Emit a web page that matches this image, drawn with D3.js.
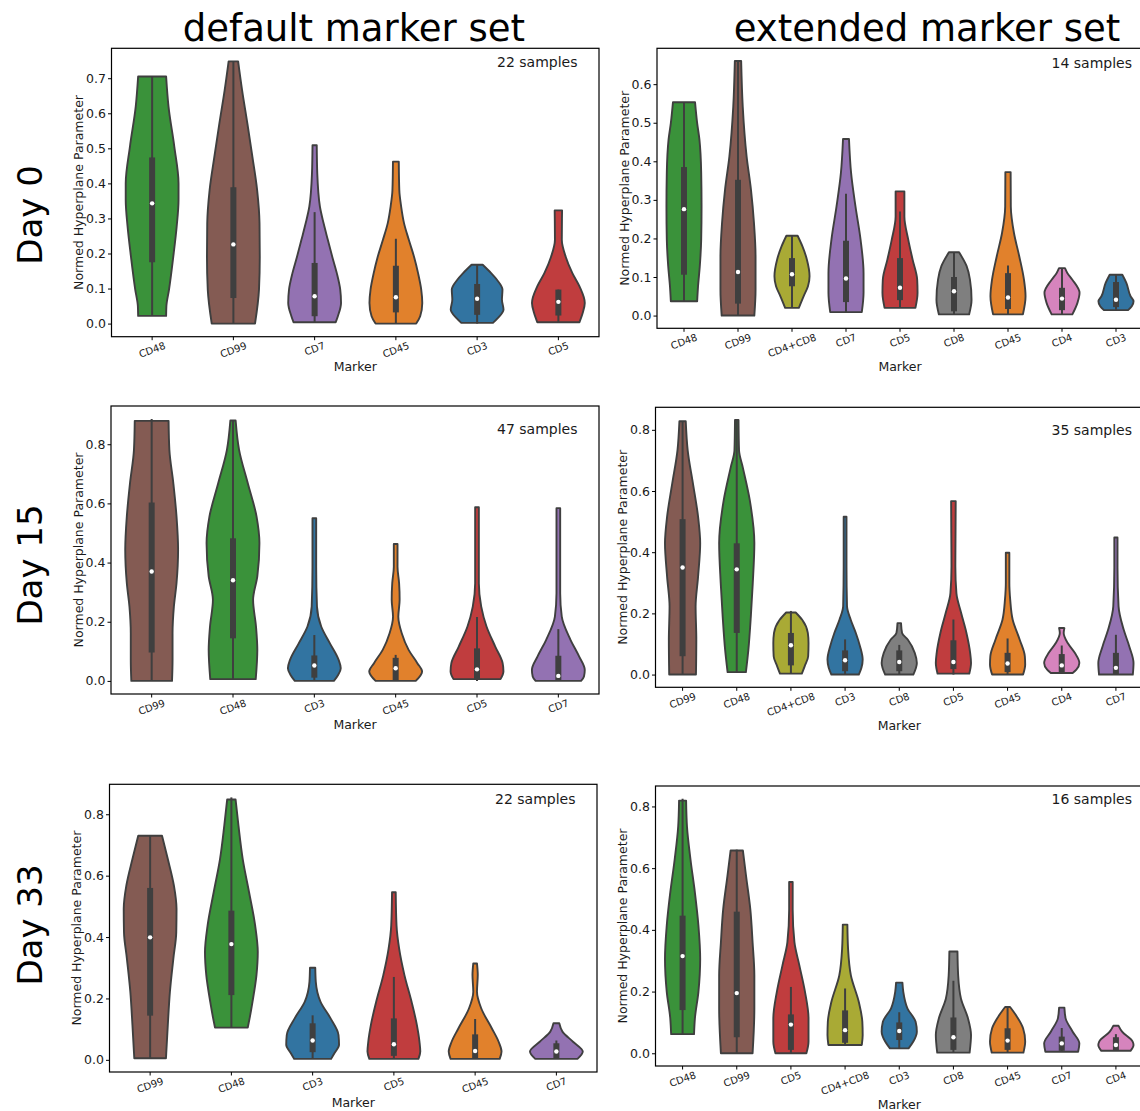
<!DOCTYPE html>
<html>
<head>
<meta charset="utf-8">
<script src="https://cdn.jsdelivr.net/npm/d3@7/dist/d3.min.js"></script>
<style>
body { margin: 0; background: #fff; }
svg { display: block; font-family: "DejaVu Sans", sans-serif; }
</style>
</head>
<body>
<script>
// Violin plots of normed hyperplane parameters per marker
// rows: Day 0 / 15 / 33, columns: default / extended marker set

// box stats per violin: [whisker low, q1, median, q3, whisker high]
// shapes: [value, relative half-width], bottom to top

var columnTitles = ["default marker set", "extended marker set"];
var rowTitles = ["Day 0", "Day 15", "Day 33"];
var sampleCounts = [22, 14, 47, 35, 22, 16];

var markerColors = {
    "CD48": "#3a923a", "CD99": "#845b53", "CD7": "#9372b2", "CD45": "#e1812c",
    "CD3": "#3274a1", "CD5": "#c03d3e", "CD4+CD8": "#a9aa35", "CD8": "#7f7f7f", "CD4": "#d684bd"
};

// ---- Day 0, default
var day0DefaultMarkers = ["CD48", "CD99", "CD7", "CD45", "CD3", "CD5"];
var day0DefaultTicks = [0, 0.1, 0.2, 0.3, 0.4, 0.5, 0.6, 0.7];
var day0DefaultBoxes = [
    [0.022, 0.175, 0.343, 0.474, 0.705],
    [0.0, 0.073, 0.226, 0.389, 0.748],
    [0.004, 0.021, 0.078, 0.173, 0.318],
    [0.0, 0.032, 0.075, 0.165, 0.242],
    [0.0, 0.025, 0.071, 0.113, 0.168],
    [0.004, 0.023, 0.062, 0.097, 0.097]
];
var day0DefaultShapes = [
    [[0.022, 0.53], [0.05, 0.54], [0.097, 0.64], [0.19, 0.8], [0.277, 0.93], [0.353, 1], [0.40, 1], [0.505, 0.84], [0.62, 0.62], [0.705, 0.53]],
    [[0, 0.82], [0.097, 0.97], [0.19, 1], [0.286, 0.99], [0.381, 0.9], [0.476, 0.72], [0.571, 0.53], [0.666, 0.33], [0.748, 0.18]],
    [[0.004, 0.8], [0.021, 0.88], [0.059, 1], [0.097, 0.97], [0.144, 0.84], [0.19, 0.67], [0.239, 0.5], [0.286, 0.34], [0.334, 0.2], [0.429, 0.1], [0.509, 0.08]],
    [[0, 0.77], [0.021, 0.92], [0.059, 1], [0.097, 0.96], [0.144, 0.84], [0.19, 0.69], [0.239, 0.49], [0.286, 0.31], [0.334, 0.2], [0.381, 0.13], [0.462, 0.11]],
    [[0.002, 0.6], [0.016, 0.79], [0.04, 1], [0.068, 0.94], [0.097, 0.96], [0.125, 0.75], [0.144, 0.53], [0.168, 0.21]],
    [[0.004, 0.8], [0.03, 0.92], [0.059, 1], [0.106, 0.8], [0.144, 0.53], [0.19, 0.28], [0.239, 0.13], [0.323, 0.14]]
];

// ---- Day 0, extended
var day0ExtMarkers = ["CD48", "CD99", "CD4+CD8", "CD7", "CD5", "CD8", "CD45", "CD4", "CD3"];
var day0ExtTicks = [0, 0.1, 0.2, 0.3, 0.4, 0.5, 0.6];
var day0ExtBoxes = [
    [0.037, 0.106, 0.276, 0.385, 0.553],
    [0.0, 0.031, 0.113, 0.352, 0.66],
    [0.02, 0.076, 0.107, 0.149, 0.208],
    [0.009, 0.035, 0.096, 0.194, 0.316],
    [0.02, 0.04, 0.072, 0.149, 0.27],
    [0.003, 0.011, 0.063, 0.1, 0.164],
    [0.003, 0.017, 0.047, 0.11, 0.13],
    [0.003, 0.014, 0.044, 0.072, 0.123],
    [0.014, 0.022, 0.041, 0.087, 0.106]
];
var day0ExtShapes = [
    [[0.037, 0.75], [0.076, 0.8], [0.128, 0.9], [0.197, 0.98], [0.283, 1], [0.37, 0.98], [0.456, 0.88], [0.499, 0.75], [0.553, 0.63]],
    [[0, 0.93], [0.067, 1], [0.154, 1], [0.24, 0.91], [0.326, 0.74], [0.413, 0.49], [0.542, 0.27], [0.66, 0.18]],
    [[0.02, 0.39], [0.05, 0.66], [0.076, 0.91], [0.102, 1], [0.145, 0.85], [0.18, 0.59], [0.207, 0.32]],
    [[0.009, 0.9], [0.059, 1], [0.11, 1], [0.197, 0.83], [0.283, 0.54], [0.37, 0.29], [0.458, 0.17]],
    [[0.02, 0.88], [0.059, 1], [0.093, 0.98], [0.145, 0.72], [0.197, 0.47], [0.257, 0.25], [0.322, 0.25]],
    [[0.003, 0.86], [0.041, 1], [0.093, 0.91], [0.128, 0.72], [0.164, 0.29]],
    [[0.003, 0.85], [0.05, 1], [0.093, 0.91], [0.154, 0.64], [0.214, 0.34], [0.283, 0.16], [0.372, 0.15]],
    [[0.003, 0.59], [0.033, 0.88], [0.059, 1], [0.093, 0.59], [0.11, 0.31], [0.123, 0.17]],
    [[0.014, 0.69], [0.024, 0.9], [0.037, 1], [0.05, 0.83], [0.085, 0.59], [0.106, 0.36]]
];

// ---- Day 15, default
var day15DefaultMarkers = ["CD99", "CD48", "CD3", "CD45", "CD5", "CD7"];
var day15DefaultTicks = [0, 0.2, 0.4, 0.6, 0.8];
var day15DefaultBoxes = [
    [0.0, 0.096, 0.37, 0.603, 0.885],
    [0.006, 0.144, 0.34, 0.482, 0.88],
    [0.0, 0.011, 0.052, 0.086, 0.155],
    [0.0, 0.0, 0.043, 0.078, 0.088],
    [0.0, 0.006, 0.039, 0.11, 0.216],
    [0.0, 0.0, 0.017, 0.085, 0.175]
];
var day15DefaultShapes = [
    [[0, 0.77], [0.071, 0.79], [0.161, 0.79], [0.251, 0.84], [0.33, 0.94], [0.443, 1], [0.556, 0.94], [0.668, 0.82], [0.781, 0.67], [0.879, 0.64]],
    [[0.006, 0.86], [0.105, 0.92], [0.184, 0.87], [0.274, 0.76], [0.353, 0.92], [0.465, 1], [0.556, 0.89], [0.668, 0.56], [0.781, 0.23], [0.88, 0.1]],
    [[0, 0.74], [0.02, 0.9], [0.043, 1], [0.071, 0.92], [0.127, 0.59], [0.184, 0.26], [0.251, 0.1], [0.386, 0.07], [0.55, 0.07]],
    [[0, 0.76], [0.032, 1], [0.06, 0.82], [0.105, 0.49], [0.161, 0.23], [0.217, 0.1], [0.274, 0.15], [0.33, 0.13], [0.386, 0.07], [0.463, 0.07]],
    [[0.006, 0.89], [0.032, 1], [0.06, 0.97], [0.116, 0.69], [0.184, 0.36], [0.251, 0.16], [0.33, 0.07], [0.5, 0.07], [0.587, 0.07]],
    [[0, 0.86], [0.015, 0.97], [0.037, 1], [0.082, 0.79], [0.139, 0.46], [0.217, 0.13], [0.296, 0.07], [0.443, 0.07], [0.584, 0.07]]
];

// ---- Day 15, extended
var day15ExtMarkers = ["CD99", "CD48", "CD4+CD8", "CD3", "CD8", "CD5", "CD45", "CD4", "CD7"];
var day15ExtTicks = [0, 0.2, 0.4, 0.6, 0.8];
var day15ExtBoxes = [
    [0.0, 0.06, 0.35, 0.508, 0.828],
    [0.008, 0.136, 0.344, 0.429, 0.832],
    [0.003, 0.03, 0.096, 0.136, 0.208],
    [0.0, 0.011, 0.047, 0.079, 0.115],
    [0.0, 0.011, 0.041, 0.079, 0.097],
    [0.0, 0.018, 0.041, 0.112, 0.18],
    [0.0, 0.008, 0.036, 0.071, 0.118],
    [0.005, 0.008, 0.03, 0.067, 0.095],
    [0.0, 0.0, 0.022, 0.071, 0.13]
];
var day15ExtShapes = [
    [[0, 0.76], [0.114, 0.78], [0.223, 0.74], [0.32, 0.88], [0.429, 1], [0.516, 0.88], [0.624, 0.59], [0.733, 0.29], [0.828, 0.18]],
    [[0.008, 0.52], [0.081, 0.66], [0.19, 0.8], [0.299, 0.91], [0.429, 1], [0.57, 0.74], [0.678, 0.34], [0.733, 0.13], [0.832, 0.1]],
    [[0.003, 0.62], [0.027, 0.78], [0.06, 0.98], [0.103, 1], [0.136, 0.96], [0.179, 0.64], [0.203, 0.27]],
    [[0, 0.78], [0.022, 0.93], [0.049, 1], [0.092, 0.85], [0.136, 0.61], [0.179, 0.32], [0.223, 0.11], [0.353, 0.08], [0.516, 0.08]],
    [[0, 0.8], [0.038, 1], [0.071, 0.88], [0.114, 0.49], [0.136, 0.16], [0.168, 0.1]],
    [[0.003, 0.9], [0.038, 1], [0.071, 0.95], [0.136, 0.74], [0.201, 0.44], [0.266, 0.17], [0.353, 0.11], [0.461, 0.12], [0.567, 0.13]],
    [[0, 0.88], [0.033, 1], [0.06, 0.98], [0.114, 0.69], [0.179, 0.29], [0.244, 0.15], [0.299, 0.1], [0.398, 0.1]],
    [[0.005, 0.62], [0.016, 0.83], [0.038, 1], [0.071, 0.74], [0.103, 0.34], [0.136, 0.11], [0.152, 0.15]],
    [[0, 0.96], [0.038, 1], [0.092, 0.76], [0.147, 0.44], [0.223, 0.15], [0.35, 0.09], [0.448, 0.09]]
];

// ---- Day 33, default
var day33DefaultMarkers = ["CD99", "CD48", "CD3", "CD5", "CD45", "CD7"];
var day33DefaultTicks = [0, 0.2, 0.4, 0.6, 0.8];
var day33DefaultBoxes = [
    [0.005, 0.144, 0.399, 0.56, 0.73],
    [0.105, 0.211, 0.377, 0.486, 0.855],
    [0.003, 0.025, 0.063, 0.119, 0.145],
    [0.003, 0.013, 0.051, 0.135, 0.27],
    [0.003, 0.003, 0.029, 0.083, 0.133],
    [0.003, 0.003, 0.027, 0.054, 0.063]
];
var day33DefaultShapes = [
    [[0.005, 0.6], [0.114, 0.67], [0.222, 0.75], [0.33, 0.88], [0.416, 0.99], [0.492, 1], [0.568, 0.9], [0.654, 0.67], [0.73, 0.45]],
    [[0.105, 0.62], [0.135, 0.69], [0.189, 0.8], [0.276, 0.95], [0.351, 1], [0.438, 0.9], [0.546, 0.67], [0.654, 0.43], [0.762, 0.27], [0.848, 0.16]],
    [[0.003, 0.7], [0.022, 0.83], [0.049, 1], [0.081, 0.98], [0.135, 0.68], [0.189, 0.3], [0.254, 0.12], [0.3, 0.1]],
    [[0.003, 0.93], [0.027, 1], [0.059, 0.97], [0.114, 0.87], [0.189, 0.67], [0.276, 0.4], [0.362, 0.2], [0.438, 0.1], [0.546, 0.07]],
    [[0.003, 0.93], [0.027, 1], [0.059, 0.89], [0.103, 0.63], [0.168, 0.23], [0.222, 0.07], [0.276, 0.1], [0.314, 0.07]],
    [[0.003, 0.8], [0.027, 1], [0.059, 0.63], [0.092, 0.23], [0.119, 0.11]]
];

// ---- Day 33, extended
var day33ExtMarkers = ["CD48", "CD99", "CD5", "CD4+CD8", "CD3", "CD8", "CD45", "CD7", "CD4"];
var day33ExtTicks = [0, 0.2, 0.4, 0.6, 0.8];
var day33ExtBoxes = [
    [0.062, 0.14, 0.315, 0.446, 0.825],
    [0.0, 0.052, 0.195, 0.459, 0.66],
    [0.0, 0.011, 0.093, 0.126, 0.215],
    [0.027, 0.034, 0.075, 0.139, 0.21],
    [0.016, 0.043, 0.072, 0.1, 0.133],
    [0.002, 0.011, 0.052, 0.116, 0.235],
    [0.002, 0.011, 0.041, 0.081, 0.15],
    [0.005, 0.008, 0.032, 0.054, 0.082],
    [0.008, 0.008, 0.027, 0.052, 0.062]
];
var day33ExtShapes = [
    [[0.062, 0.65], [0.113, 0.7], [0.199, 0.9], [0.306, 1], [0.414, 0.9], [0.521, 0.7], [0.628, 0.45], [0.735, 0.25], [0.819, 0.2]],
    [[0, 0.9], [0.145, 1], [0.252, 1], [0.36, 0.9], [0.467, 0.77], [0.574, 0.53], [0.657, 0.35]],
    [[0, 0.88], [0.038, 1], [0.113, 1], [0.199, 0.8], [0.285, 0.48], [0.36, 0.2], [0.467, 0.1], [0.555, 0.1]],
    [[0.027, 0.95], [0.059, 1], [0.102, 0.98], [0.166, 0.78], [0.252, 0.33], [0.338, 0.17], [0.417, 0.13]],
    [[0.016, 0.53], [0.038, 0.8], [0.07, 1], [0.102, 0.93], [0.145, 0.47], [0.199, 0.23], [0.229, 0.18]],
    [[0.002, 0.92], [0.059, 1], [0.113, 0.83], [0.177, 0.43], [0.252, 0.27], [0.33, 0.23]],
    [[0.002, 0.9], [0.038, 1], [0.081, 0.88], [0.123, 0.48], [0.15, 0.14]],
    [[0.005, 0.93], [0.032, 1], [0.07, 0.62], [0.113, 0.22], [0.148, 0.15]],
    [[0.008, 0.83], [0.027, 1], [0.038, 0.95], [0.07, 0.35], [0.089, 0.15]]
];

// ---- layout
var svg = d3.select("body").append("svg")
    .attr("width", 1140)
    .attr("height", 1111)
    .style("background", "#fff");

var edge = "#3f3f3f";
var textColor = "#1a1a1a";

// panel boxes in pixels
var panels = [
    {l: 111.5, r: 599, t: 48.3, b: 336.7, textDy: 18.4, markers: day0DefaultMarkers, boxes: day0DefaultBoxes, shapes: day0DefaultShapes, ticks: day0DefaultTicks, xlabDy: 34.5},
    {l: 657, r: 1143, t: 48.3, b: 328.3, textDy: 19.4, markers: day0ExtMarkers, boxes: day0ExtBoxes, shapes: day0ExtShapes, ticks: day0ExtTicks, xlabDy: 42.5},
    {l: 111, r: 599, t: 406, b: 694, textDy: 28.3, markers: day15DefaultMarkers, boxes: day15DefaultBoxes, shapes: day15DefaultShapes, ticks: day15DefaultTicks, xlabDy: 34.5},
    {l: 655.5, r: 1143, t: 407.3, b: 687.3, textDy: 27.4, markers: day15ExtMarkers, boxes: day15ExtBoxes, shapes: day15ExtShapes, ticks: day15ExtTicks, xlabDy: 42.5},
    {l: 109.5, r: 597, t: 784.3, b: 1072, textDy: 19.4, markers: day33DefaultMarkers, boxes: day33DefaultBoxes, shapes: day33DefaultShapes, ticks: day33DefaultTicks, xlabDy: 34.5},
    {l: 655.5, r: 1143, t: 786, b: 1066, textDy: 17.7, markers: day33ExtMarkers, boxes: day33ExtBoxes, shapes: day33ExtShapes, ticks: day33ExtTicks, xlabDy: 42.5}
];

panels.forEach(function(p, i) {
    drawPanel(p, sampleCounts[i], i % 2 == 1);
});

function drawPanel(p, samples, isRight) {
    var g = svg.append("g");

    // y range from data, padded 5% like matplotlib
    var lo = d3.min(p.shapes, function(s, k) { return Math.min(s[0][0], p.boxes[k][0]); });
    var hi = d3.max(p.shapes, function(s, k) { return Math.max(s[s.length - 1][0], p.boxes[k][4]); });
    var pad = (hi - lo) * 0.05;

    var yScale = d3.scaleLinear().domain([lo - pad, hi + pad]).range([p.b, p.t]);
    var xScale = d3.scaleBand().domain(p.markers).range([p.l, p.r]).padding(0);
    var halfMax = xScale.bandwidth() * 0.325;

    // violins
    p.markers.forEach(function(m, k) {
        var cx = xScale(m) + xScale.bandwidth() / 2;
        var area = d3.area()
            .y(function(d) { return yScale(d[0]); })
            .x0(function(d) { return cx - d[1] * halfMax; })
            .x1(function(d) { return cx + d[1] * halfMax; })
            .curve(d3.curveMonotoneY);

        g.append("path")
            .attr("d", area(p.shapes[k]))
            .attr("fill", markerColors[m])
            .attr("stroke", edge)
            .attr("stroke-width", 1.9)
            .attr("stroke-linejoin", "round");

        var b = p.boxes[k];
        // whisker
        g.append("line")
            .attr("x1", cx).attr("x2", cx)
            .attr("y1", yScale(b[0])).attr("y2", yScale(b[4]))
            .attr("stroke", edge)
            .attr("stroke-width", 2);
        // box q1 - q3
        g.append("rect")
            .attr("x", cx - 3)
            .attr("width", 6)
            .attr("y", yScale(b[3]))
            .attr("height", Math.max(0.5, yScale(b[1]) - yScale(b[3])))
            .attr("fill", edge);
        // median
        g.append("circle")
            .attr("cx", cx)
            .attr("cy", yScale(b[2]))
            .attr("r", 2.2)
            .attr("fill", "white");
    });

    // y axis
    var yAxis = d3.axisLeft(yScale)
        .tickValues(p.ticks)
        .tickSize(3.5)
        .tickPadding(2)
        .tickFormat(d3.format(".1f"));
    var ya = g.append("g")
        .attr("transform", "translate(" + p.l + ",0)")
        .call(yAxis);
    ya.select(".domain").remove();
    ya.selectAll("line").attr("stroke", "#000").attr("stroke-width", 1);
    ya.selectAll("text")
        .attr("fill", textColor)
        .style("font-size", "12.5px")
        .style("font-family", "DejaVu Sans, sans-serif");

    // x axis with rotated labels
    var xAxis = d3.axisBottom(xScale).tickSize(3.5);
    var xa = g.append("g")
        .attr("transform", "translate(0," + p.b + ")")
        .call(xAxis);
    xa.select(".domain").remove();
    xa.selectAll("line").attr("stroke", "#000").attr("stroke-width", 1);
    xa.selectAll("text")
        .attr("fill", textColor)
        .attr("y", null)
        .attr("dy", "0.35em")
        .attr("text-anchor", "middle")
        .style("font-size", "10px")
        .style("font-family", "DejaVu Sans, sans-serif")
        .attr("transform", function() {
            var w = this.getComputedTextLength();
            var off = 5 + (w * Math.sin(20 * Math.PI / 180) + 7.3 * Math.cos(20 * Math.PI / 180)) / 2;
            return "translate(0," + off + ") rotate(-20)";
        });

    // frame
    g.append("rect")
        .attr("x", p.l).attr("y", p.t)
        .attr("width", p.r - p.l).attr("height", p.b - p.t)
        .attr("fill", "none")
        .attr("stroke", "#000")
        .attr("stroke-width", 1.2);

    // axis titles
    g.append("text")
        .attr("x", (p.l + p.r) / 2)
        .attr("y", p.b + p.xlabDy)
        .attr("text-anchor", "middle")
        .attr("fill", textColor)
        .style("font-size", "12.5px")
        .text("Marker");

    g.append("text")
        .attr("transform", "translate(" + (p.l - 32.5) + "," + ((p.t + p.b) / 2) + ") rotate(-90)")
        .attr("text-anchor", "middle")
        .attr("dy", "0.35em")
        .attr("fill", textColor)
        .style("font-size", "12.5px")
        .text("Normed Hyperplane Parameter");

    // sample count
    g.append("text")
        .attr("x", isRight ? 1132 : p.r - 21.5)
        .attr("y", p.t + p.textDy)
        .attr("text-anchor", "end")
        .attr("fill", textColor)
        .style("font-size", "14px")
        .text(samples + " samples");
}

// column titles
var colCenters = [354, 927];
columnTitles.forEach(function(t, i) {
    svg.append("text")
        .attr("x", colCenters[i])
        .attr("y", 41)
        .attr("text-anchor", "middle")
        .attr("fill", "#000")
        .style("font-size", "37px")
        .text(t);
});

// row titles
var rowCenters = [215, 565, 925];
rowTitles.forEach(function(t, i) {
    svg.append("text")
        .attr("transform", "translate(30," + rowCenters[i] + ") rotate(-90)")
        .attr("text-anchor", "middle")
        .attr("dy", "0.35em")
        .attr("fill", "#000")
        .style("font-size", "34px")
        .text(t);
});
</script>
</body>
</html>
